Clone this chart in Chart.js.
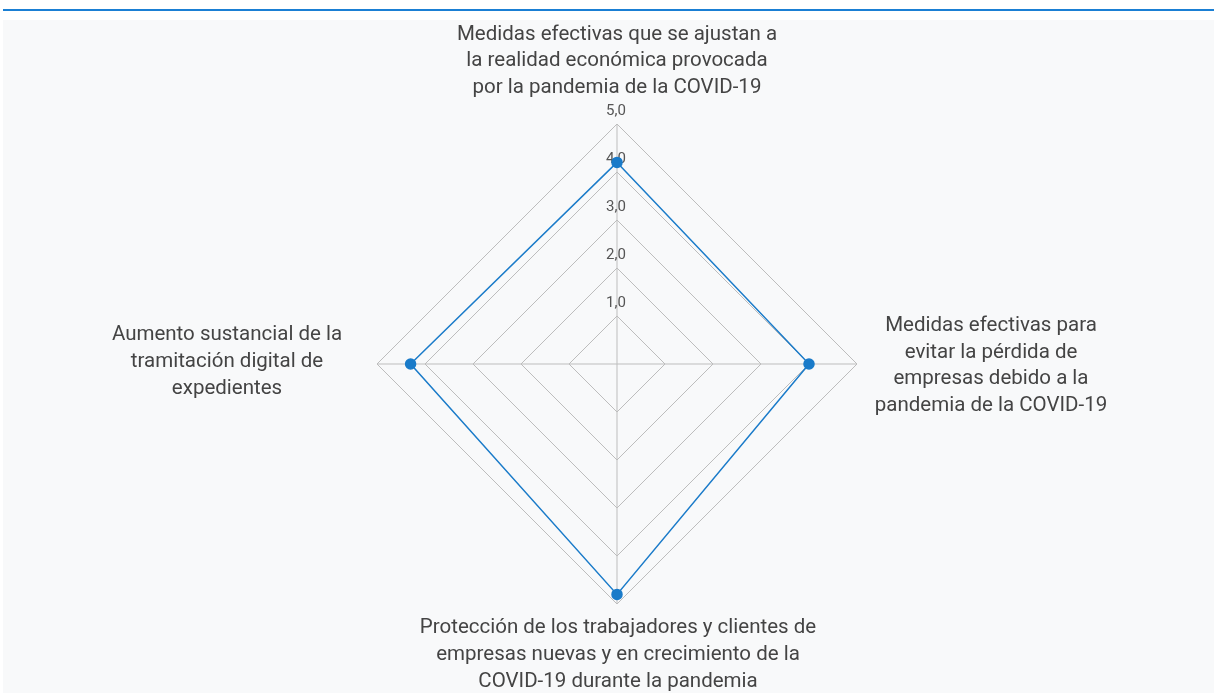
<!DOCTYPE html>
<html>
<head>
<meta charset="utf-8">
<script src="https://cdn.jsdelivr.net/npm/chart.js@4.4.1/dist/chart.umd.min.js"></script>
<style>
    body { margin: 0; background: #fff; font-family: Roboto, sans-serif; }
    .topline { position: absolute; left: 3px; right: 0; top: 9px; height: 2px; background: #1a7fd4; }
    .panel { position: absolute; left: 3px; right: 0; top: 20px; bottom: 0; background: #f8f9fa; }
</style>
</head>
<body>
<div class="topline"></div>
<div class="panel">
    <canvas id="radar" width="1211" height="673"></canvas>
</div>
<script>
const categories = [
    ['Medidas efectivas que se ajustan a', 'la realidad económica provocada', 'por la pandemia de la COVID-19'],
    ['Medidas efectivas para', 'evitar la pérdida de', 'empresas debido a la', 'pandemia de la COVID-19'],
    ['Protección de los trabajadores y clientes de', 'empresas nuevas y en crecimiento de la', 'COVID-19 durante la pandemia'],
    ['Aumento sustancial de la', 'tramitación digital de', 'expedientes']
];
const scores = [4.2, 4.0, 4.8, 4.3];
const tickValues = [1, 2, 3, 4, 5];

const blue = '#1a7bc9';
const lineH = 26.7;

// label block centre, relative to the outer vertex of each axis (top, right, bottom, left)
const labelOffsets = [
    { dx: 0, dy: -36 - lineH },
    { dx: 134, dy: 2 },
    { dx: 1, dy: 24 + lineH },
    { dx: -150, dy: -2 }
];

// tick labels sit just above each ring vertex, point labels are centred blocks
const textPlugin = {
    id: 'radarText',
    beforeDatasetsDraw(chart) {
        const scale = chart.scales.r;
        const ctx = chart.ctx;
        ctx.save();
        ctx.textAlign = 'center';
        ctx.textBaseline = 'middle';

        ctx.font = '15px Roboto, sans-serif';
        ctx.fillStyle = '#555';
        tickValues.forEach(v => {
            const p = scale.getPointPositionForValue(0, v);
            ctx.fillText(v.toFixed(1).replace('.', ','), p.x - 1, p.y - 13);
        });

        ctx.font = '20.5px Roboto, sans-serif';
        ctx.fillStyle = '#444';
        categories.forEach((lines, i) => {
            const p = scale.getPointPosition(i, scale.drawingArea);
            const cx = p.x + labelOffsets[i].dx;
            const cy = p.y + labelOffsets[i].dy;
            const top = cy - (lines.length - 1) * lineH / 2;
            lines.forEach((t, k) => ctx.fillText(t, cx, top + k * lineH));
        });
        ctx.restore();
    }
};

new Chart(document.getElementById('radar'), {
    type: 'radar',
    data: {
        labels: categories,
        datasets: [{
            data: scores,
            borderColor: blue,
            borderWidth: 1.5,
            backgroundColor: 'rgba(0,0,0,0)',
            fill: false,
            pointBackgroundColor: blue,
            pointBorderColor: blue,
            pointRadius: 5,
            tension: 0
        }]
    },
    options: {
        responsive: false,
        animation: false,
        layout: { padding: { top: 104, bottom: 89, left: 17, right: 0 } },
        plugins: { legend: { display: false }, tooltip: { enabled: false } },
        scales: {
            r: {
                min: 0,
                max: 5,
                ticks: { stepSize: 1, display: false },
                grid: { color: '#bdbdbd', lineWidth: 1 },
                angleLines: { color: '#bdbdbd', lineWidth: 1 },
                pointLabels: { display: false }
            }
        }
    },
    plugins: [textPlugin]
});
</script>
</body>
</html>
